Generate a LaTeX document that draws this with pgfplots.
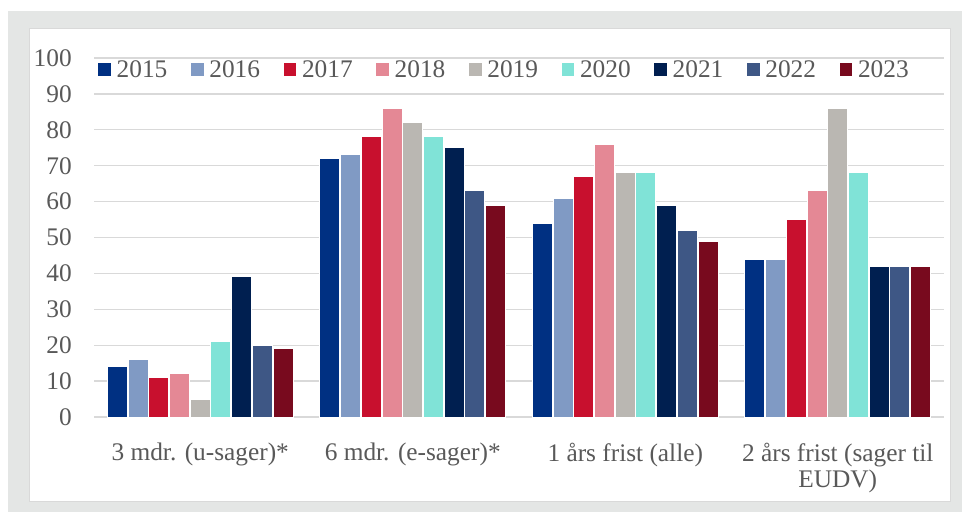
\documentclass[border=0pt]{standalone}
\usepackage{fontspec}
\setmainfont{Liberation Serif}
\usepackage{pgfplots}
\pgfplotsset{compat=1.18}
\definecolor{c15}{HTML}{003082}
\definecolor{c16}{HTML}{809AC4}
\definecolor{c17}{HTML}{C8102E}
\definecolor{c18}{HTML}{E48895}
\definecolor{c19}{HTML}{BAB7B2}
\definecolor{c20}{HTML}{80E3D7}
\definecolor{c21}{HTML}{001F50}
\definecolor{c22}{HTML}{3E5785}
\definecolor{c23}{HTML}{780A1E}
\definecolor{txt}{HTML}{595959}
\definecolor{gridc}{HTML}{D9D9D9}
\definecolor{outer}{HTML}{E4E6E5}
\pgfplotsset{sqleg/.style={legend image code/.code={\fill[##1,draw=none] (0pt,-4.75pt) rectangle (9.5pt,4.75pt);}}}
\begin{document}
\begin{tikzpicture}
\fill[white] (0,0) rectangle (721.5pt,384pt);
\fill[outer] (6pt,0) rectangle (721.5pt,375.75pt);
\filldraw[fill=white, draw=gridc, line width=0.75pt] (21.75pt,8.25pt) rectangle (712.5pt,363pt);
\begin{axis}[
  at={(70.5pt,71.25pt)}, anchor=south west,
  scale only axis, width=637.5pt, height=269.25pt,
  ybar, bar width=0.094,
  xmin=-0.5, xmax=3.5, ymin=0, ymax=100,
  ytick={0,10,...,100},
  xtick={0,1,2,3},
  xticklabels={3 mdr. (u-sager)*, 6 mdr. (e-sager)*, 1 års frist (alle), {2 års frist (sager til\\EUDV)}},
  axis line style={draw=none},
  tick style={draw=none},
  xmajorgrids=false, ymajorgrids=true, grid style={draw=gridc, line width=1pt},
  /pgf/number format/assume math mode=true,
  tick label style={text=txt, font=\fontsize{19}{21}\selectfont},
  yticklabel style={anchor=east, inner sep=0pt, xshift=-16.5pt},
  xticklabel style={anchor=north, inner sep=0pt, yshift=-15pt, align=center, font=\fontsize{19}{20}\selectfont},
  legend columns=9,
  legend style={at={(rel axis cs:0,1)}, anchor=north west, xshift=3pt, yshift=-1.5pt,
    draw=none, fill=none, inner sep=0pt,
    nodes={inner sep=0pt, text=txt, font=\fontsize{19}{21}\selectfont},
    /tikz/every odd column/.append style={column sep=4.3pt},
    /tikz/every even column/.append style={column sep=17.7pt}},
]
\addplot[fill=c15, draw=white, line width=0.75pt, bar shift=-0.3896, sqleg] coordinates {(0,14) (1,72) (2,54) (3,44)};
\addplot[fill=c16, draw=white, line width=0.75pt, bar shift=-0.2922, sqleg] coordinates {(0,16) (1,73) (2,61) (3,44)};
\addplot[fill=c17, draw=white, line width=0.75pt, bar shift=-0.1948, sqleg] coordinates {(0,11) (1,78) (2,67) (3,55)};
\addplot[fill=c18, draw=white, line width=0.75pt, bar shift=-0.0974, sqleg] coordinates {(0,12) (1,86) (2,76) (3,63)};
\addplot[fill=c19, draw=white, line width=0.75pt, bar shift=0, sqleg] coordinates {(0,5) (1,82) (2,68) (3,86)};
\addplot[fill=c20, draw=white, line width=0.75pt, bar shift=0.0974, sqleg] coordinates {(0,21) (1,78) (2,68) (3,68)};
\addplot[fill=c21, draw=white, line width=0.75pt, bar shift=0.1948, sqleg] coordinates {(0,39) (1,75) (2,59) (3,42)};
\addplot[fill=c22, draw=white, line width=0.75pt, bar shift=0.2922, sqleg] coordinates {(0,20) (1,63) (2,52) (3,42)};
\addplot[fill=c23, draw=white, line width=0.75pt, bar shift=0.3896, sqleg] coordinates {(0,19) (1,59) (2,49) (3,42)};
\legend{2015,2016,2017,2018,2019,2020,2021,2022,2023}
\end{axis}
\end{tikzpicture}
\end{document}
